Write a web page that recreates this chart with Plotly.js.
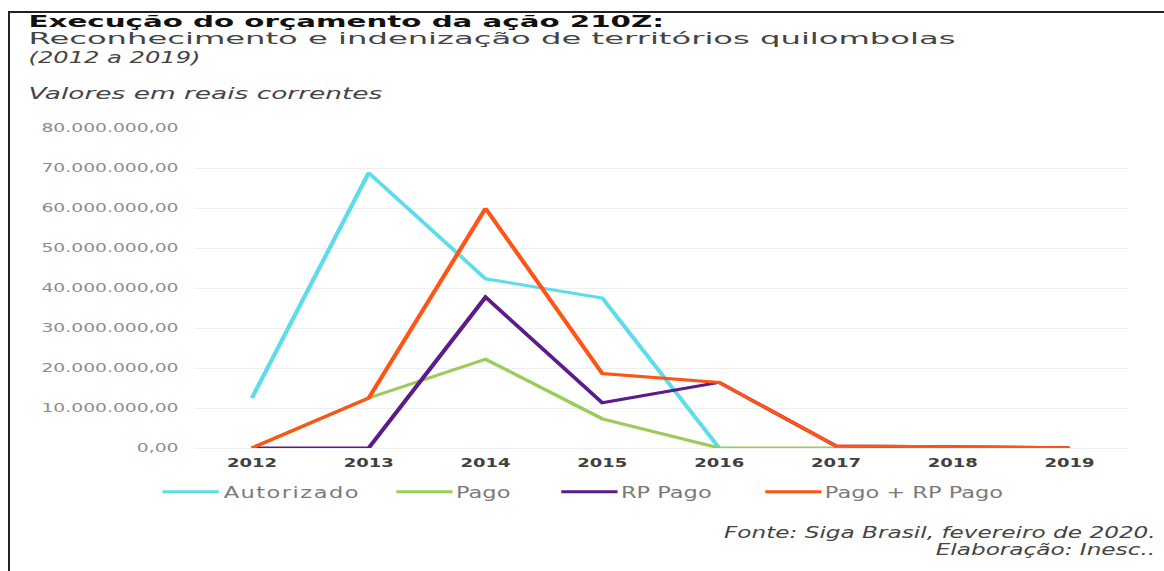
<!DOCTYPE html>
<html>
<head>
<meta charset="utf-8">
<script src="https://cdn.plot.ly/plotly-3.0.1.min.js"></script>
<style>
html,body{margin:0;padding:0;background:#fff;}
#wrap{position:relative;width:1164px;height:571px;overflow:hidden;background:#fff;}
#frame{position:absolute;left:8px;top:11px;width:1160px;height:570px;border-left:2px solid #222;border-top:2px solid #222;}
#chart{position:absolute;left:0;top:0;width:776px;height:571px;transform:scaleX(1.5);transform-origin:0 0;}
g.annotation text{transform-box:fill-box;transform-origin:0 50%;}
g.annotation[data-index="0"] text{transform:scaleX(1.261);}
g.annotation[data-index="1"] text{transform:scaleX(1.386);}
g.annotation[data-index="2"] text{transform:scaleX(1.04);}
g.annotation[data-index="3"] text{transform:scaleX(1.066);}
g.annotation[data-index="4"] text, g.annotation[data-index="5"] text{transform-origin:100% 50%;transform:scaleX(1.03);}
.legendtext{letter-spacing:1.0px;}
.legendlines path{transform-box:fill-box;transform-origin:0 0;transform:scaleX(1.25);}
</style>
</head>
<body>
<div id="wrap">
<div id="frame"></div>
<div id="chart"></div>
</div>
<script>
// ---- data ----
var years = ['2012','2013','2014','2015','2016','2017','2018','2019'];
var autorizado = [12.5e6, 68.8e6, 42.3e6, 37.5e6, 0, null, null, null];
var pago       = [0, 12.5e6, 22.2e6, 7.3e6, 0, 0, null, null];
var rpPago     = [0, 0, 37.7e6, 11.3e6, 16.4e6, 0.5e6, 0.3e6, 0.05e6];
var pagoMaisRp = [0, 12.5e6, 59.9e6, 18.6e6, 16.4e6, 0.5e6, 0.3e6, 0.05e6];
var seriesNames = ['Autorizado', 'Pago', 'RP Pago', 'Pago + RP Pago'];
var yTicks = [0, 10e6, 20e6, 30e6, 40e6, 50e6, 60e6, 70e6, 80e6];

var colors = ['#5fdcea', '#9bcc5a', '#5c1a8a', '#ff5416'];
var values = [autorizado, pago, rpPago, pagoMaisRp];
var legendIds = ['legend', 'legend2', 'legend3', 'legend4'];

var traces = values.map(function(v, i){
  return {
    type: 'scatter', mode: 'lines',
    x: years, y: v, name: '\u00a0' + seriesNames[i],
    line: {color: colors[i], width: 3},
    connectgaps: false,
    legend: legendIds[i],
    hoverinfo: 'x+y+name'
  };
});

// plot area (pre-stretch coordinates)
var W = 776, L = 128.67, R = W - 752, T = 128, B = 571 - 448;
var pw = W - L - R, ph = 571 - T - B;
function px2x(p){ return (p - L) / pw; }
function px2y(p){ return (571 - B - p) / ph; }

var legFont = {family: 'DejaVu Sans', size: 15, color: '#7a7a7a'};
function leg(xpx){
  return {orientation: 'h', x: px2x(xpx), xanchor: 'left', y: px2y(492), yanchor: 'middle',
          font: legFont, bgcolor: 'rgba(0,0,0,0)', borderwidth: 0};
}

function ann(text, xpx, ypx, xanchor, font){
  return {text: text, xref: 'paper', yref: 'paper', x: px2x(xpx), y: px2y(ypx),
          xanchor: xanchor, yanchor: 'middle', align: xanchor, showarrow: false, font: font};
}

var layout = {
  width: W, height: 571,
  margin: {l: L, r: R, t: T, b: B},
  paper_bgcolor: 'rgba(0,0,0,0)',
  plot_bgcolor: 'rgba(0,0,0,0)',
  separators: ',.',
  showlegend: true,
  legend: leg(103),
  legend2: leg(259),
  legend3: leg(369),
  legend4: leg(505),
  xaxis: {
    type: 'category', range: [-0.5, 7.5],
    showgrid: false, zeroline: false, showline: false, ticks: '',
    tickfont: {family: 'DejaVu Sans', size: 12, color: '#404040', weight: 'bold'},
    ticklabelstandoff: 6, fixedrange: true
  },
  yaxis: {
    range: [0, 80e6], tickvals: yTicks, tickformat: ',.2f',
    showgrid: true, gridcolor: '#eeeeee', gridwidth: 1,
    zeroline: true, zerolinecolor: '#eeeeee', zerolinewidth: 1,
    showline: false, ticks: '',
    tickfont: {family: 'DejaVu Sans', size: 12.5, color: '#8c8c8c'},
    ticklabelstandoff: 9, fixedrange: true
  },
  annotations: [
    ann('Execução do orçamento da ação 210Z:', 16.67, 21.5, 'left',
        {family: 'DejaVu Sans', size: 15.5, color: '#111111', weight: 'bold'}),
    ann('Reconhecimento e indenização de territórios quilombolas', 16.67, 39.5, 'left',
        {family: 'DejaVu Sans', size: 15.5, color: '#444444'}),
    ann('(2012 a 2019)', 16.67, 58, 'left',
        {family: 'DejaVu Sans', size: 15.5, color: '#444444', style: 'italic'}),
    ann('Valores em reais correntes', 16.67, 93, 'left',
        {family: 'DejaVu Sans', size: 16.5, color: '#444444', style: 'italic'}),
    ann('Fonte: Siga Brasil, fevereiro de 2020.', 773.3, 533, 'right',
        {family: 'DejaVu Sans', size: 15, color: '#444444', style: 'italic'}),
    ann('Elaboração: Inesc..', 772, 550, 'right',
        {family: 'DejaVu Sans', size: 15, color: '#444444', style: 'italic'})
  ]
};

Plotly.newPlot('chart', traces, layout, {displayModeBar: false, staticPlot: true});
</script>
</body>
</html>
